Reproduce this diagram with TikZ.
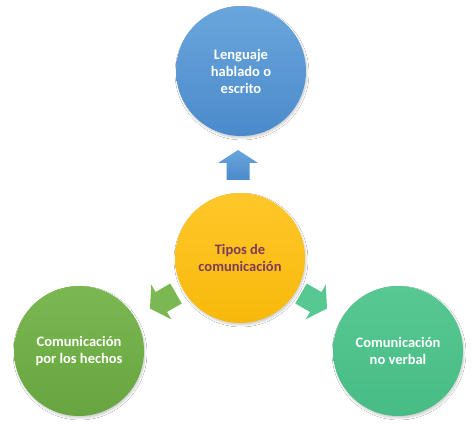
\documentclass[tikz,border=0pt]{standalone}
\usepackage{fontspec}
\setmainfont{Carlito}
\usetikzlibrary{shadows.blur}
\definecolor{bluetop}{HTML}{6AA6DD}
\definecolor{bluebot}{HTML}{4B8ACB}
\definecolor{yeltop}{HTML}{FFC72A}
\definecolor{yelbot}{HTML}{F7B90A}
\definecolor{lgtop}{HTML}{7BB851}
\definecolor{lgbot}{HTML}{66A53F}
\definecolor{rgtop}{HTML}{58C893}
\definecolor{rgbot}{HTML}{47BC85}
\definecolor{ctext}{HTML}{7E3A5E}
\tikzset{
  bubble/.style={circle, minimum size=130pt, inner sep=0pt, align=center,
    font=\fontsize{14.5}{17}\selectfont\bfseries, text=white,
    blur shadow={shadow xshift=1pt, shadow yshift=-2pt, shadow blur steps=6, shadow opacity=20}},
  blockarrow/.pic={
    \path[pic actions] (-15,-11.5) -- (2,-11.5) -- (2,-20) -- (15,0) -- (2,20) -- (2,11.5) -- (-15,11.5) -- cycle;
  }
}
\begin{document}
\begin{tikzpicture}[x=1pt,y=-1pt]
\useasboundingbox[fill=white] (0,0) rectangle (474,427);
\node[bubble, top color=bluetop, bottom color=bluebot] (top) at (241,71) {Lenguaje\\hablado o\\escrito};
\node[bubble, top color=yeltop, bottom color=yelbot, text=ctext] (center) at (240,258) {Tipos de\\comunicación};
\node[bubble, top color=lgtop, bottom color=lgbot] (left) at (79,351) {Comunicación\\por los hechos};
\node[bubble, top color=rgtop, bottom color=rgbot] (right) at (398,351) {Comunicación\\no verbal};
\coordinate (aup) at (238,165);
\coordinate (aleft) at (163,301);
\coordinate (aright) at (314,301);
\pic[top color=bluetop, bottom color=bluebot, rotate=90] at (aup) {blockarrow};
\pic[fill=lgtop, rotate=210] at (aleft) {blockarrow};
\pic[fill=rgtop, rotate=-30] at (aright) {blockarrow};
\end{tikzpicture}
\end{document}
